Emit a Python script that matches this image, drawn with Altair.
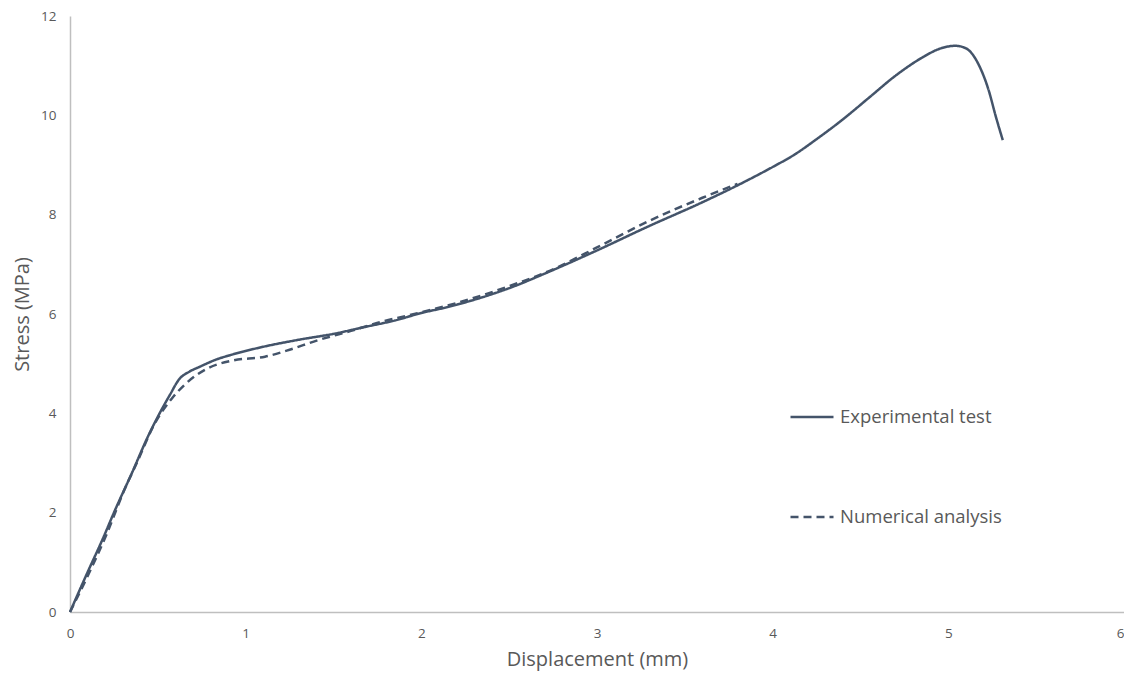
import altair as alt
import pandas as pd

exp_x = [0, 0.1, 0.19, 0.25, 0.35, 0.45, 0.51, 0.57, 0.62, 0.68, 0.74, 0.83, 0.92, 1.1, 1.3, 1.5, 1.68, 1.85, 2.0, 2.15, 2.35, 2.5, 2.72, 3.0, 3.29, 3.6, 3.85, 4.0, 4.12, 4.25, 4.4, 4.55, 4.7, 4.85, 4.95, 5.04, 5.1, 5.17, 5.23, 5.27, 5.31]
exp_y = [0, 0.8, 1.5, 2.0, 2.78, 3.58, 4.0, 4.38, 4.68, 4.84, 4.94, 5.08, 5.18, 5.34, 5.48, 5.6, 5.74, 5.87, 6.02, 6.14, 6.34, 6.52, 6.84, 7.28, 7.76, 8.25, 8.68, 8.96, 9.2, 9.52, 9.92, 10.36, 10.8, 11.16, 11.34, 11.4, 11.35, 11.04, 10.5, 9.98, 9.5]

num_x = [0, 0.1, 0.21, 0.30, 0.385, 0.48, 0.58, 0.66, 0.78, 0.92, 1.11, 1.25, 1.4, 1.6, 1.77, 1.96, 2.2, 2.5, 2.75, 3.0, 3.3, 3.6, 3.8]
num_y = [0, 0.72, 1.58, 2.38, 3.04, 3.78, 4.3, 4.6, 4.9, 5.06, 5.14, 5.28, 5.46, 5.66, 5.84, 6.0, 6.22, 6.56, 6.9, 7.34, 7.88, 8.34, 8.62]

series = ["Experimental test", "Numerical analysis"]

df = pd.concat([
    pd.DataFrame({"x": exp_x, "y": exp_y, "s": series[0], "o": range(len(exp_x))}),
    pd.DataFrame({"x": num_x, "y": num_y, "s": series[1], "o": range(len(num_x))}),
])

color = "#44546A"
font = "Open Sans"

chart = alt.Chart(df).mark_line(color=color, strokeWidth=2.5, interpolate="monotone").encode(
    x=alt.X("x:Q", title="Displacement (mm)",
            scale=alt.Scale(domain=[0, 6], nice=False),
            axis=alt.Axis(values=[0, 1, 2, 3, 4, 5, 6], grid=False, ticks=False,
                          labelFlush=False,
                          labelAlign=alt.expr("datum.value == 6 ? 'right' : 'center'"),
                          domainColor="#BFBFBF", domainWidth=1.5,
                          labelColor="#595959", labelFontSize=13.5, labelFont=font,
                          labelPadding=14, titleColor="#595959", titleFontSize=20,
                          titleFont=font, titleFontWeight="normal", titlePadding=10)),
    y=alt.Y("y:Q", title="Stress (MPa)",
            scale=alt.Scale(domain=[0, 12], nice=False),
            axis=alt.Axis(values=[0, 2, 4, 6, 8, 10, 12], grid=False, ticks=False,
                          labelFlush=False,
                          domainColor="#BFBFBF", domainWidth=1.5,
                          labelColor="#595959", labelFontSize=13.5, labelFont=font,
                          labelPadding=14, titleColor="#595959", titleFontSize=20,
                          titleFont=font, titleFontWeight="normal", titlePadding=8)),
    strokeDash=alt.StrokeDash("s:N", title=None,
                              scale=alt.Scale(domain=series, range=[[1, 0], [8, 5]]),
                              legend=alt.Legend(orient="none", legendX=719, legendY=378,
                                                symbolType="stroke", symbolSize=1849,
                                                symbolStrokeColor=color, symbolStrokeWidth=2.5,
                                                labelFontSize=18.5, labelFont=font,
                                                labelColor="#595959", labelOffset=5,
                                                labelLimit=400,
                                                rowPadding=67, padding=0)),
    order="o:Q",
).properties(
    width=1054, height=596,
    autosize=alt.AutoSizeParams(type="none"),
    padding={"left": 62, "top": 8, "right": 0, "bottom": 59},
).configure_view(stroke=None)

chart.save("out.html", embed_options={"renderer": "svg", "actions": False})
